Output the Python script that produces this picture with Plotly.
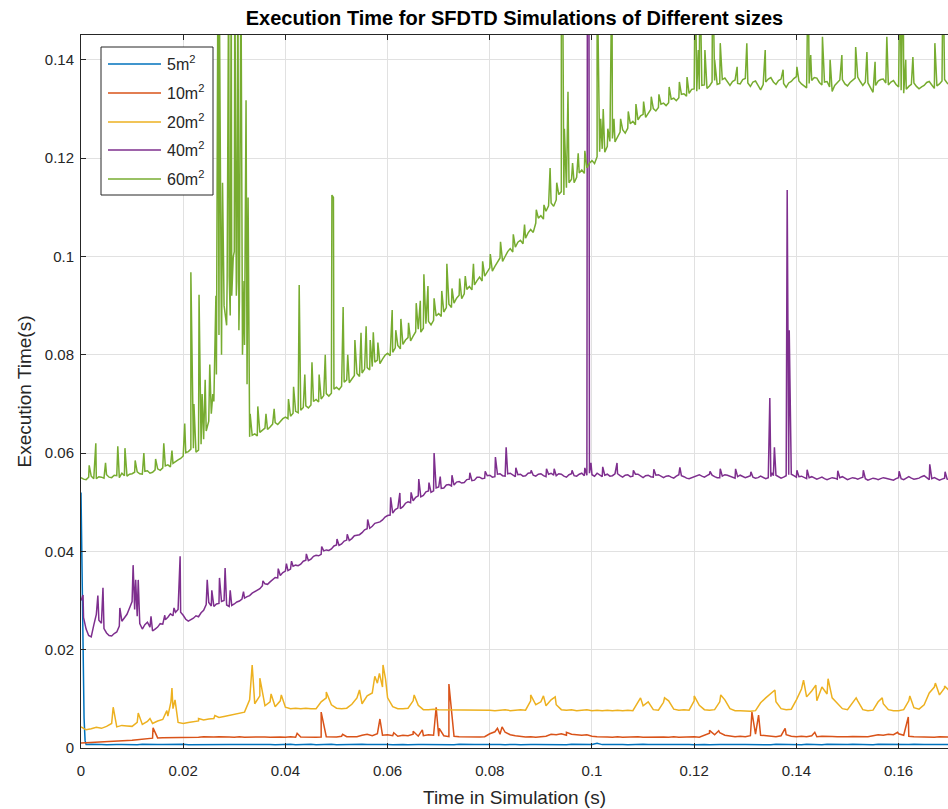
import numpy as np
import plotly.graph_objects as go

# Sampling steps of the recorded step times (s)
STEP_COARSE = 0.001
STEP_FINE = 0.0005

series_names = ["5m<sup>2</sup>", "10m<sup>2</sup>", "20m<sup>2</sup>", "40m<sup>2</sup>", "60m<sup>2</sup>"]
series_colors = ["#0072BD", "#D95319", "#EDB120", "#7E2F8E", "#77AC30"]

# Execution time per step in milliseconds (5, 10, 20 m^2 sampled every 1 ms)
exec_5m_ms = [
    52.0, 0.70, 0.74, 0.66, 0.72, 0.68, 0.75, 0.69, 0.71, 0.65,
    0.73, 0.68, 0.76, 0.70, 0.66, 0.72, 0.69, 0.74, 0.67, 0.71,
    0.75, 0.68, 0.70, 0.73, 0.66, 0.71, 0.69, 0.77, 0.68, 0.72,
    0.70, 0.66, 0.74, 0.69, 0.72, 0.67, 0.75, 0.70, 0.68, 0.73,
    0.69, 0.76, 0.67, 0.71, 0.70, 0.74, 0.66, 0.72, 0.69, 0.75,
    0.68, 0.71, 0.73, 0.66, 0.70, 0.74, 0.69, 0.72, 0.67, 0.76,
    0.70, 0.68, 0.73, 0.71, 0.66, 0.75, 0.69, 0.72, 0.70, 0.67,
    0.74, 0.69, 0.71, 0.68, 0.76, 0.70, 0.66, 0.73, 0.69, 0.72,
    0.67, 0.75, 0.70, 0.68, 0.73, 0.71, 0.66, 0.74, 0.69, 0.72,
    0.70, 0.67, 0.76, 0.69, 0.72, 0.68, 0.74, 0.70, 0.66, 0.73,
    0.71, 0.95, 0.69, 0.72, 0.67, 0.75, 0.70, 0.68, 0.73, 0.66,
    0.74, 0.69, 0.71, 0.68, 0.76, 0.70, 0.67, 0.73, 0.69, 0.72,
    0.68, 0.75, 0.70, 0.66, 0.73, 0.71, 0.69, 0.74, 0.67, 0.72,
    0.70, 0.68, 0.75, 0.69, 0.72, 0.66, 0.74, 0.70, 0.68, 0.73,
    0.71, 0.67, 0.76, 0.69, 0.72, 0.68, 0.74, 0.70, 0.66, 0.73,
    0.69, 0.75, 0.70, 0.68, 0.72, 0.67, 0.74, 0.71, 0.69, 0.73,
    0.68, 0.72, 0.70, 0.75, 0.67, 0.71, 0.69, 0.74, 0.66, 0.72,
    0.70,
]
exec_10m_ms = [
    1.00, 1.05, 1.10, 1.15, 1.20, 1.30, 1.35, 1.40, 1.50, 1.55,
    1.60, 1.70, 1.75, 1.85, 2.00, 2.05, 2.10, 2.10, 2.15, 2.15,
    2.20, 2.20, 2.25, 2.20, 2.30, 2.20, 2.25, 2.30, 2.20, 2.25,
    2.20, 2.30, 2.20, 2.25, 2.30, 2.20, 2.25, 2.20, 2.30, 2.25,
    2.20, 2.30, 2.20, 2.25, 2.20, 2.30, 2.20, 2.25, 2.30, 2.20,
    2.25, 2.40, 2.30, 2.25, 2.30, 2.60, 2.80, 2.50, 2.90, 2.60,
    2.70, 2.50, 2.40, 2.60, 2.50, 2.80, 2.40, 2.50, 2.70, 2.60,
    2.40, 2.50, 2.30, 2.40, 2.30, 2.25, 2.30, 2.20, 2.25, 2.30,
    2.90, 3.30, 2.80, 3.20, 2.70, 2.50, 2.30, 2.25, 2.30, 2.20,
    2.30, 2.40, 2.80, 2.70, 2.90, 2.60, 2.80, 2.70, 2.60, 2.70,
    2.40, 2.30, 2.20, 2.25, 2.20, 2.30, 2.20, 2.25, 2.20, 2.30,
    2.20, 2.25, 2.20, 2.30, 2.25, 2.20, 2.30, 2.20, 2.25, 2.20,
    2.30, 2.20, 2.60, 3.00, 2.70, 3.10, 2.60, 2.40, 2.30, 2.40,
    2.30, 2.50, 2.80, 2.60, 2.50, 2.40, 2.30, 2.50, 2.70, 2.40,
    2.30, 2.40, 2.30, 2.50, 2.30, 2.40, 2.30, 2.35, 2.30, 2.25,
    2.30, 2.35, 2.30, 2.40, 2.30, 2.50, 2.70, 2.60, 2.80, 2.70,
    2.90, 2.60, 2.40, 2.30, 2.25, 2.20, 2.25, 2.20, 2.30, 2.20,
    2.25,
]
exec_20m_ms = [
    4.3, 3.7, 3.9, 4.2, 4.0, 4.4, 5.0, 4.3, 4.6, 4.5,
    4.4, 5.2, 4.8, 5.4, 5.0, 5.5, 5.8, 6.5, 8.0, 5.2,
    5.0, 5.2, 5.4, 5.5, 5.7, 5.9, 6.0, 6.2, 6.4, 6.6,
    6.8, 7.0, 7.3, 9.8, 9.0, 10.6, 8.6, 9.4, 8.4, 9.6,
    8.3, 8.0, 8.1, 8.0, 8.1, 8.0, 8.0, 9.4, 10.2, 8.8,
    8.1, 8.0, 8.1, 8.9, 10.2, 9.0, 10.6, 11.2, 13.2, 12.4,
    10.2, 8.4, 8.0, 8.0, 8.1, 9.6, 8.7, 7.8, 7.8, 7.9,
    7.8, 7.8, 7.7, 7.8, 7.7, 7.8, 7.7, 7.8, 7.7, 7.8,
    7.7, 7.6, 7.7, 7.8, 7.6, 7.7, 7.8, 7.7, 9.6, 8.8,
    9.4, 8.6, 9.8, 8.8, 7.8, 7.7, 7.8, 7.6, 7.7, 7.8,
    7.6, 7.7, 7.6, 7.7, 7.6, 7.7, 7.6, 7.7, 7.6, 9.2,
    8.6, 9.4, 7.8, 7.7, 9.3, 9.6, 7.9, 7.7, 7.8, 7.7,
    9.6, 8.7, 7.8, 7.7, 7.8, 9.4, 9.8, 8.0, 7.6, 7.6,
    7.5, 7.5, 7.6, 9.2, 10.2, 11.0, 9.4, 8.0, 7.8, 7.9,
    9.8, 12.0, 10.4, 11.6, 9.6, 12.4, 11.0, 10.2, 9.0, 8.0,
    7.8, 9.2, 9.6, 7.8, 7.6, 7.7, 9.4, 9.0, 7.8, 7.6,
    7.6, 7.8, 9.6, 8.2, 7.9, 8.8, 11.2, 12.4, 10.8, 12.2,
    11.6,
]
# 40 and 60 m^2 sampled every 0.5 ms
exec_40m_ms = [
    30.0, 26.5, 24.2, 22.9, 22.6, 25.0, 27.2, 26.0, 25.4, 24.3,
    23.4, 22.9, 22.8, 23.3, 23.6, 24.8, 25.8, 26.6, 27.2, 28.5,
    29.8, 28.2, 26.8, 25.3, 24.2, 25.1, 25.6, 24.6, 23.8, 24.2,
    24.6, 25.3, 25.2, 26.1, 26.6, 27.3, 26.9, 27.6, 28.2, 27.6,
    27.0, 26.2, 25.8, 26.1, 26.4, 26.9, 26.7, 27.5, 28.0, 29.2,
    29.6, 28.9, 28.8, 29.3, 29.4, 29.8, 30.0, 29.1, 28.8, 29.0,
    29.3, 29.7, 29.9, 30.3, 30.5, 30.8, 31.0, 31.5, 31.8, 32.0,
    32.4, 33.0, 33.4, 33.3, 33.8, 34.3, 34.7, 34.6, 35.1, 35.7,
    36.0, 36.1, 36.4, 37.0, 37.2, 37.1, 37.4, 38.0, 38.2, 38.1,
    38.4, 39.0, 39.2, 39.1, 39.4, 40.1, 40.3, 40.2, 40.5, 41.1,
    41.3, 41.2, 41.5, 42.1, 42.3, 42.2, 42.6, 43.2, 43.3, 43.4,
    43.8, 44.4, 44.6, 44.7, 45.1, 45.7, 45.9, 46.0, 46.4, 47.0,
    47.3, 47.4, 47.8, 48.5, 48.8, 48.7, 49.1, 49.8, 50.1, 49.9,
    50.3, 51.0, 51.3, 51.1, 51.4, 52.1, 52.3, 52.0, 52.3, 52.9,
    53.1, 52.8, 52.9, 53.5, 53.6, 53.3, 53.5, 54.1, 54.2, 53.9,
    54.0, 54.6, 54.7, 54.4, 54.5, 55.1, 55.1, 54.8, 54.9, 55.4,
    55.5, 55.1, 55.2, 55.7, 55.8, 55.4, 55.3, 55.8, 55.9, 55.5,
    55.2, 55.6, 55.7, 55.3, 55.4, 55.9, 56.0, 55.5, 55.3, 55.7,
    55.8, 55.4, 55.2, 55.7, 55.9, 55.5, 55.4, 55.8, 55.7, 55.3,
    55.1, 55.6, 55.8, 55.4, 55.3, 55.7, 55.9, 55.4, 55.5, 55.9,
    55.6, 55.3, 55.9, 55.6, 55.2, 55.5, 55.7, 55.3, 55.4, 55.8,
    55.8, 55.4, 55.1, 55.5, 55.6, 55.2, 55.3, 55.7, 55.7, 55.3,
    55.0, 55.4, 55.5, 55.2, 55.1, 55.5, 55.6, 55.3, 55.0, 55.3,
    55.4, 55.1, 54.9, 55.3, 55.6, 55.4, 55.2, 54.9, 54.8, 55.0,
    55.3, 55.5, 55.6, 55.3, 55.1, 55.4, 55.7, 55.5, 55.2, 55.0,
    55.0, 55.3, 55.6, 55.5, 55.3, 55.1, 54.9, 55.2, 55.5, 55.2,
    55.0, 55.2, 55.4, 55.1, 54.9, 55.0, 55.3, 55.0, 54.8, 55.0,
    55.2, 55.4, 55.5, 55.2, 54.9, 55.1, 55.4, 55.6, 55.7, 55.4,
    55.1, 55.2, 55.3, 55.0, 54.8, 55.0, 55.2, 54.9, 54.7, 54.9,
    55.1, 54.8, 54.6, 54.8, 55.0, 54.9, 54.7, 55.0, 55.2, 54.9,
    54.6, 54.8, 55.0, 54.9, 54.7, 54.9, 55.1, 54.8, 54.5, 54.7,
    54.9, 54.8, 54.6, 54.8, 55.0, 54.9, 54.8, 54.6, 54.5, 54.8,
    55.0, 54.8, 54.6, 54.9, 55.2, 54.9, 54.7, 54.8, 54.9, 55.2,
    55.4, 55.0, 54.6, 54.8, 55.0, 54.7, 54.5, 54.7, 54.9, 54.7,
    54.6,
]
exec_60m_ms = [
    55.0, 54.7, 54.6, 55.1, 55.3, 54.8, 54.8, 55.2, 55.1, 54.9,
    55.6, 55.1, 55.0, 55.5, 55.4, 55.0, 55.9, 55.4, 55.3, 55.7,
    55.8, 56.1, 56.2, 55.8, 55.7, 56.3, 56.4, 55.9, 56.1, 56.6,
    56.8, 56.5, 57.0, 57.4, 57.6, 57.2, 57.9, 58.3, 58.6, 58.9,
    59.4, 60.1, 60.3, 60.8, 61.0, 60.2, 60.6, 61.8, 62.8, 64.5,
    66.5, 68.0, 70.5, 76.0, 84.0, 80.0, 90.0, 86.0, 96.0, 92.0,
    101.0, 95.0, 91.0, 86.0, 82.0, 74.0, 63.3, 63.6, 63.9, 63.5,
    64.2, 64.7, 65.1, 64.8, 65.3, 65.9, 66.2, 65.8, 66.4, 67.0,
    67.3, 67.0, 67.5, 68.1, 68.5, 68.2, 68.7, 69.3, 69.6, 69.2,
    69.8, 70.5, 70.9, 70.4, 71.0, 71.7, 72.1, 71.6, 72.2, 73.0,
    73.4, 72.9, 73.6, 74.4, 74.9, 74.3, 75.0, 75.8, 76.2, 75.6,
    76.3, 77.1, 77.4, 76.9, 77.6, 78.5, 78.9, 78.2, 79.1, 79.9,
    80.3, 79.8, 80.5, 81.4, 81.9, 81.2, 82.1, 83.0, 83.5, 82.8,
    83.8, 84.7, 85.2, 84.6, 85.4, 86.3, 86.8, 86.1, 87.0, 87.9,
    88.4, 87.8, 88.7, 89.6, 90.3, 89.6, 90.5, 91.5, 92.1, 91.4,
    92.4, 93.3, 93.9, 93.2, 94.2, 95.1, 95.8, 95.0, 96.0, 97.0,
    97.7, 97.0, 98.0, 99.0, 99.7, 99.0, 100.0, 101.0, 101.6, 100.9,
    101.9, 102.9, 103.3, 102.6, 103.7, 104.8, 105.5, 104.9, 106.8, 107.8,
    108.3, 107.6, 109.2, 110.3, 110.9, 110.2, 111.5, 112.6, 113.2, 112.5,
    114.0, 115.0, 115.7, 115.0, 116.1, 117.0, 117.6, 116.9, 118.0, 119.0,
    119.5, 118.9, 120.3, 121.3, 121.9, 121.2, 122.4, 123.4, 124.0, 123.3,
    124.4, 125.3, 125.8, 125.1, 126.1, 127.0, 127.5, 126.8, 127.8, 128.6,
    128.9, 128.3, 129.1, 129.9, 130.1, 129.6, 130.3, 131.0, 131.2, 130.7,
    131.3, 132.0, 132.2, 131.7, 132.3, 133.0, 133.1, 132.6, 133.2, 134.0,
    134.1, 133.6, 134.0, 134.8, 134.9, 134.2, 134.7, 135.5, 135.8, 135.0,
    135.2, 136.0, 136.3, 135.4, 134.8, 135.6, 135.9, 135.2, 135.1, 136.0,
    136.2, 135.3, 134.6, 135.5, 135.7, 134.8, 133.9, 135.0, 135.5, 136.1,
    136.4, 135.5, 135.0, 135.8, 136.1, 135.2, 134.4, 135.3, 135.6, 136.2,
    136.6, 135.7, 135.1, 134.6, 134.3, 135.2, 135.8, 136.4, 136.3, 135.4,
    134.9, 135.5, 135.6, 134.5, 133.6, 134.8, 135.4, 135.9, 136.0, 135.1,
    134.7, 135.4, 135.9, 136.3, 136.5, 135.6, 134.8, 135.5, 135.3, 134.2,
    133.4, 134.8, 135.7, 136.0, 136.1, 135.3, 134.9, 135.5, 135.8, 135.0,
    134.5, 133.8, 133.2, 134.0, 134.6, 135.0, 135.3, 134.6, 134.1, 134.5,
    134.8, 135.4, 135.6, 134.9, 134.2, 134.7, 135.1, 135.7, 136.0, 135.3,
    134.8,
]

# Isolated slow steps between samples: (time s, execution time ms)
spikes_5m = [(0.0002, 36.0), (0.0004, 18.0), (0.0006, 6.0), (0.0008, 1.5)]
spikes_10m = [
    (0.0141, 4.1), (0.0423, 3.0), (0.0470, 7.3), (0.0512, 2.8), (0.0585, 5.9),
    (0.0612, 3.1), (0.0650, 3.4), (0.0668, 3.7), (0.0695, 8.3), (0.0701, 4.0),
    (0.0720, 13.0), (0.0815, 4.0), (0.0824, 4.3), (0.0950, 3.2), (0.1230, 3.6),
    (0.1248, 3.5), (0.1313, 7.3), (0.1326, 6.7), (0.1378, 4.0), (0.1436, 3.2),
    (0.1598, 3.2), (0.1619, 6.3),
]
spikes_20m = [
    (0.0063, 8.3), (0.0112, 7.1), (0.0135, 6.0), (0.0168, 7.6), (0.0176, 9.4),
    (0.0178, 12.2), (0.0184, 9.8), (0.0230, 6.0), (0.0262, 6.6), (0.0335, 16.9),
    (0.0350, 14.2), (0.0372, 11.0), (0.0392, 10.8), (0.0480, 11.4), (0.0545, 11.8),
    (0.0575, 14.6), (0.0584, 15.2), (0.0591, 16.9), (0.0596, 14.0), (0.0652, 10.8),
    (0.0880, 10.8), (0.0905, 10.6), (0.0928, 10.4), (0.1095, 10.2), (0.1142, 10.2),
    (0.1200, 10.6), (0.1252, 10.8), (0.1358, 11.8), (0.1414, 13.8), (0.1438, 12.8),
    (0.1462, 14.1), (0.1517, 10.2), (0.1568, 10.2), (0.1622, 10.6), (0.1672, 13.2),
    (0.1690, 12.6),
]
spikes_40m = [
    (0.0004, 31.1), (0.0033, 31.0), (0.0043, 32.6), (0.0076, 28.5), (0.0102, 37.2),
    (0.0107, 34.2), (0.0112, 34.2), (0.0137, 26.8), (0.0164, 27.0), (0.0182, 28.5),
    (0.0194, 39.0), (0.0247, 34.2), (0.0256, 32.1), (0.0271, 34.6), (0.0282, 36.6),
    (0.0292, 32.1), (0.0318, 31.8), (0.0356, 34.0), (0.0386, 36.5), (0.0402, 37.5),
    (0.0412, 38.0), (0.0441, 39.5), (0.0471, 41.0), (0.0501, 42.5), (0.0521, 43.5),
    (0.0561, 46.5), (0.0606, 51.0), (0.0624, 51.9), (0.0646, 52.0), (0.0661, 54.7),
    (0.0681, 54.0), (0.0691, 60.0), (0.0703, 55.2), (0.0726, 55.5), (0.0761, 56.0),
    (0.0791, 56.3), (0.0811, 59.2), (0.0832, 61.2), (0.0851, 57.0), (0.0881, 56.5),
    (0.0911, 56.8), (0.0926, 56.8), (0.0961, 56.5), (0.0986, 57.0), (0.0991, 160.0),
    (0.0994, 160.0), (0.0998, 58.0), (0.1021, 57.2), (0.1049, 58.0), (0.1081, 56.5),
    (0.1121, 56.7), (0.1172, 57.1), (0.1231, 56.3), (0.1251, 56.8), (0.1281, 56.8),
    (0.1311, 56.2), (0.1348, 71.2), (0.1352, 56.0), (0.1357, 61.2), (0.1382, 113.5),
    (0.1386, 85.0), (0.1401, 56.5), (0.1421, 56.6), (0.1481, 56.4), (0.1531, 56.5),
    (0.1601, 56.3), (0.1661, 57.7), (0.1691, 56.2),
]
spikes_60m = [
    (0.0016, 57.5), (0.0029, 62.0), (0.0048, 58.0), (0.0072, 61.4), (0.0086, 61.0),
    (0.0106, 58.5), (0.0123, 60.0), (0.0146, 58.8), (0.0162, 62.0), (0.0178, 60.5),
    (0.0203, 66.0), (0.0215, 96.8), (0.0221, 70.0), (0.0231, 92.2), (0.0237, 72.0),
    (0.0243, 74.9), (0.0252, 78.0), (0.0258, 72.0), (0.0264, 92.0), (0.0268, 160.0),
    (0.0271, 150.0), (0.0277, 115.0), (0.0286, 95.0), (0.0289, 160.0), (0.0292, 88.0),
    (0.0294, 160.0), (0.0298, 100.0), (0.0301, 160.0), (0.0304, 92.0), (0.0307, 160.0),
    (0.0309, 85.0), (0.0313, 160.0), (0.0316, 80.0), (0.0319, 95.0), (0.0323, 131.8),
    (0.0327, 112.0), (0.0331, 68.0), (0.0346, 69.5), (0.0362, 68.0), (0.0378, 69.0),
    (0.0406, 71.0), (0.0416, 73.5), (0.0427, 94.2), (0.0438, 76.0), (0.0452, 78.5),
    (0.0466, 76.0), (0.0478, 80.0), (0.0491, 112.5), (0.0494, 112.0), (0.0513, 89.7),
    (0.0522, 80.0), (0.0536, 83.0), (0.0548, 84.5), (0.0558, 85.8), (0.0566, 83.0),
    (0.0572, 84.6), (0.0581, 82.5), (0.0609, 89.1), (0.0616, 85.0), (0.0626, 87.3),
    (0.0641, 86.5), (0.0656, 90.5), (0.0664, 91.0), (0.0671, 96.4), (0.0679, 94.0),
    (0.0691, 91.5), (0.0706, 93.0), (0.0716, 98.5), (0.0726, 93.5), (0.0741, 95.5),
    (0.0752, 96.0), (0.0768, 98.5), (0.0786, 99.0), (0.0801, 100.5), (0.0821, 103.0),
    (0.0846, 104.5), (0.0868, 106.5), (0.0891, 109.5), (0.0906, 110.5), (0.0918, 118.0),
    (0.0931, 115.0), (0.0940, 160.0), (0.0943, 150.0), (0.0946, 126.0), (0.0953, 133.5),
    (0.0962, 119.0), (0.0973, 121.0), (0.0986, 121.5), (0.1010, 160.0), (0.1013, 140.0),
    (0.1017, 128.0), (0.1022, 130.0), (0.1031, 126.0), (0.1039, 160.0), (0.1043, 128.0),
    (0.1056, 128.0), (0.1071, 129.5), (0.1086, 131.0), (0.1101, 131.5), (0.1116, 132.5),
    (0.1131, 133.0), (0.1151, 134.5), (0.1171, 135.5), (0.1186, 136.5), (0.1202, 160.0),
    (0.1208, 142.0), (0.1211, 160.0), (0.1221, 142.0), (0.1236, 160.0), (0.1240, 140.0),
    (0.1251, 143.4), (0.1284, 138.6), (0.1303, 143.4), (0.1339, 142.0), (0.1374, 138.0),
    (0.1401, 138.6), (0.1423, 160.0), (0.1428, 141.0), (0.1451, 144.7), (0.1466, 140.0),
    (0.1489, 141.0), (0.1516, 142.6), (0.1538, 141.6), (0.1554, 139.6), (0.1577, 144.7),
    (0.1603, 160.0), (0.1609, 160.0), (0.1614, 140.0), (0.1628, 140.6), (0.1671, 143.4),
    (0.1687, 160.0),
]

base_series = [exec_5m_ms, exec_10m_ms, exec_20m_ms, exec_40m_ms, exec_60m_ms]
base_steps = [STEP_COARSE, STEP_COARSE, STEP_COARSE, STEP_FINE, STEP_FINE]
spike_series = [spikes_5m, spikes_10m, spikes_20m, spikes_40m, spikes_60m]


def merge(base_ms, step, spikes):
    """Combine regular samples with the isolated spikes, ordered by time, in seconds."""
    tb = np.round(np.arange(len(base_ms)) * step, 5)
    st = np.array([s[0] for s in spikes])
    sv = np.array([s[1] for s in spikes])
    t = np.concatenate([tb, st])
    v = np.concatenate([np.array(base_ms), sv]) / 1000.0
    order = np.argsort(t, kind="stable")
    return t[order], v[order]


LINE_W = 1.5

fig = go.Figure()
for i, (name, color) in enumerate(zip(series_names, series_colors)):
    t, v = merge(base_series[i], base_steps[i], spike_series[i])
    fig.add_trace(go.Scatter(
        x=t, y=v, mode="lines", name=name, showlegend=False,
        line=dict(color=color, width=LINE_W),
    ))

AXIS_COLOR = "#262626"
GRID_COLOR = "#e1e1e1"
FONT = "Liberation Sans, Arial, sans-serif"

# Plot-area geometry in pixels, used to place the boxed legend
W, H = 948, 809
ML, MR, MT, MB = 81, 0, 35, 61
PW, PH = W - ML - MR, H - MT - MB


def px_x(x):
    return (x - ML) / PW


def px_y(y):
    return (H - MB - y) / PH


shapes = [dict(
    type="rect", xref="paper", yref="paper",
    x0=px_x(101), x1=px_x(213), y0=px_y(195), y1=px_y(47),
    line=dict(color=AXIS_COLOR, width=1), fillcolor="white", layer="above",
)]
annotations = []
row_y = [64, 93, 122, 150, 179]
for name, color, ry in zip(series_names, series_colors, row_y):
    shapes.append(dict(
        type="line", xref="paper", yref="paper",
        x0=px_x(108), x1=px_x(161), y0=px_y(ry), y1=px_y(ry),
        line=dict(color=color, width=LINE_W), layer="above",
    ))
    annotations.append(dict(
        xref="paper", yref="paper", x=px_x(165), y=px_y(ry - 1),
        xanchor="left", yanchor="middle", showarrow=False, text=name,
        font=dict(size=16, color=AXIS_COLOR, family=FONT),
    ))

fig.update_layout(
    width=W, height=H,
    margin=dict(l=ML, r=MR, t=MT, b=MB),
    paper_bgcolor="white", plot_bgcolor="white",
    font=dict(family=FONT, color=AXIS_COLOR),
    showlegend=False,
    shapes=shapes, annotations=annotations,
    title=dict(
        text="<b>Execution Time for SFDTD Simulations of Different sizes</b>",
        x=0.5, xref="paper", xanchor="center",
        y=1 - 18 / H, yref="container", yanchor="middle",
        font=dict(size=20, color="#000000"),
    ),
)
fig.update_xaxes(
    range=[0, 0.16967], tick0=0, dtick=0.02,
    showgrid=True, gridcolor=GRID_COLOR, gridwidth=1, zeroline=False,
    showline=True, linecolor=AXIS_COLOR, linewidth=1, mirror="ticks",
    ticks="inside", ticklen=5, tickcolor=AXIS_COLOR,
    tickfont=dict(size=15, color=AXIS_COLOR), ticklabelstandoff=9,
    title=dict(text="Time in Simulation (s)", font=dict(size=19, color=AXIS_COLOR), standoff=12),
)
fig.update_yaxes(
    range=[0, 0.14506], tick0=0, dtick=0.02,
    showgrid=True, gridcolor=GRID_COLOR, gridwidth=1, zeroline=False,
    showline=True, linecolor=AXIS_COLOR, linewidth=1, mirror=False,
    ticks="inside", ticklen=5, tickcolor=AXIS_COLOR,
    tickfont=dict(size=15, color=AXIS_COLOR), ticklabelstandoff=3,
    title=dict(text="Execution Time(s)", font=dict(size=19, color=AXIS_COLOR), standoff=8),
)

fig.write_html("out.html")
